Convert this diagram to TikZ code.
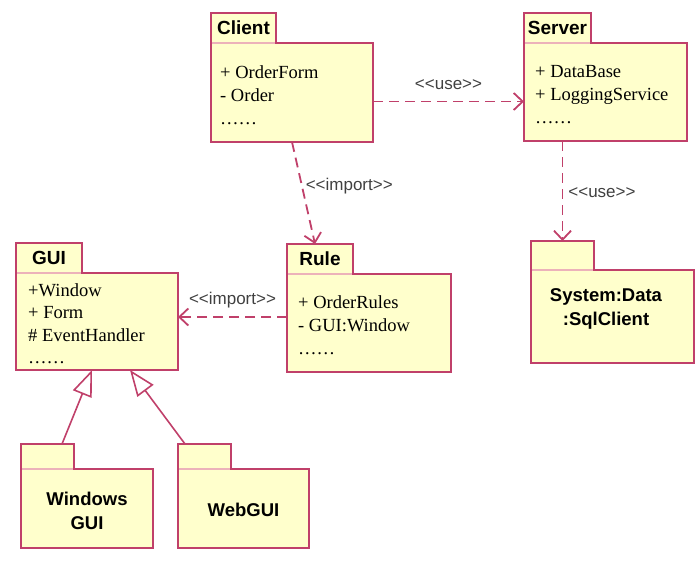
\documentclass[tikz,border=0pt]{standalone}
\usepackage{fontspec}
\setmainfont{Liberation Serif}
\setsansfont{Liberation Sans}
\usetikzlibrary{arrows.meta}
\definecolor{pkline}{RGB}{192,64,106}
\definecolor{pkfill}{RGB}{255,255,204}
\definecolor{pksep}{RGB}{236,178,186}

\begin{document}
\begin{tikzpicture}[x=1pt,y=-1pt,
  pkbody/.style={draw=pkline, fill=pkfill, line width=1.6pt, anchor=north west, inner sep=0pt, outer sep=0pt},
  pktab/.style={draw=pkline, fill=pkfill, line width=1.6pt, anchor=south west, inner sep=0pt, outer sep=0pt,
    font=\sffamily\bfseries\fontsize{19}{20}\selectfont},
  pkname/.style={align=center, inner sep=0pt, font=\sffamily\bfseries\fontsize{18.5}{24}\selectfont},
  members/.style={anchor=north west, inner sep=0pt, align=left, font=\fontsize{18.5}{23}\selectfont},
  sepline/.style={pksep, line width=1.6pt},
  dep/.style={pkline, line width=1.8pt, dash pattern=on 10pt off 6pt, -{Straight Barb[length=9pt,width=17pt]}},
  gen/.style={pkline, line width=1.6pt, -{Triangle[open,length=26pt,width=20pt,fill=white]}},
  stereo/.style={inner sep=0pt, font=\sffamily\fontsize{17}{18}\selectfont, text=black!75}]
          \useasboundingbox (0,0) rectangle (700,570);

          \node[pkbody, minimum width=162pt, minimum height=99pt] (client) at (211,43) {};
          \node[pktab, minimum width=65pt, minimum height=30pt] (clienttab) at (client.north west) {Client};
          \node[members] (clientlist) at ([xshift=9pt,yshift=-22pt]client.north west)
            {+ OrderForm\\- Order\\……};

          \node[pkbody, minimum width=163pt, minimum height=98pt] (server) at (524,43) {};
          \node[pktab, minimum width=67pt, minimum height=30pt] (servertab) at (server.north west) {Server};
          \node[members] (serverlist) at ([xshift=11pt,yshift=-22pt]server.north west)
            {+ DataBase\\+ LoggingService\\……};

          \node[pkbody, minimum width=162pt, minimum height=97pt] (gui) at (16,273) {};
          \node[pktab, minimum width=66pt, minimum height=30pt] (guitab) at (gui.north west) {GUI};
          \node[members, font=\fontsize{18.5}{22.5}\selectfont] (guilist) at ([xshift=12pt,yshift=-10pt]gui.north west)
            {+Window\\+ Form\\\# EventHandler\\……};

          \node[pkbody, minimum width=164pt, minimum height=98pt] (rule) at (287,274) {};
          \node[pktab, minimum width=66pt, minimum height=30pt] (ruletab) at (rule.north west) {Rule};
          \node[members] (rulelist) at ([xshift=11pt,yshift=-21pt]rule.north west)
            {+ OrderRules\\- GUI:Window\\……};

          \node[pkbody, minimum width=163pt, minimum height=93pt] (sql) at (531,270) {};
          \node[pktab, minimum width=63pt, minimum height=29pt] (sqltab) at (sql.north west) {};
          \node[pkname] (sqlname) at (606,309) {System:Data\\:SqlClient};

          \node[pkbody, minimum width=132pt, minimum height=79pt] (win) at (21,469) {};
          \node[pktab, minimum width=53pt, minimum height=25pt] (wintab) at (win.north west) {};
          \node[pkname] (winname) at ([yshift=-2pt]win.center) {Windows\\GUI};

          \node[pkbody, minimum width=131pt, minimum height=79pt] (web) at (178,469) {};
          \node[pktab, minimum width=53pt, minimum height=25pt] (webtab) at (web.north west) {};
          \node[pkname] (webname) at ([yshift=-1pt]web.center) {WebGUI};

          \foreach \t in {clienttab,servertab,guitab,ruletab,sqltab,wintab,webtab}
            \draw[sepline] ([xshift=0.8pt]\t.south west) -- ([xshift=-0.8pt]\t.south east);

          \draw[dep] ([yshift=-9pt]client.east) -- ([yshift=-9pt]client.east -| server.west)
            node[stereo, midway, above=11pt] {<{}<use>{}>};
          \draw[dep] (client.south) -- ([xshift=-5pt]ruletab.north)
            node[stereo, pos=0.43, right=3pt] {<{}<import>{}>};
          \draw[dep] ([yshift=6pt]rule.west) -- ([yshift=6pt]rule.west -| gui.east)
            node[stereo, midway, above=8pt] {<{}<import>{}>};
          \draw[dep] (sqltab.north |- server.south) -- (sqltab.north)
            node[stereo, pos=0.52, right=5pt] {<{}<use>{}>};
          \draw[gen] ([xshift=-12pt]wintab.north east) -- ([xshift=-5pt]gui.south);
          \draw[gen] ([xshift=7pt]webtab.north west) -- ([xshift=33pt]gui.south);
        \end{tikzpicture}
\end{document}
